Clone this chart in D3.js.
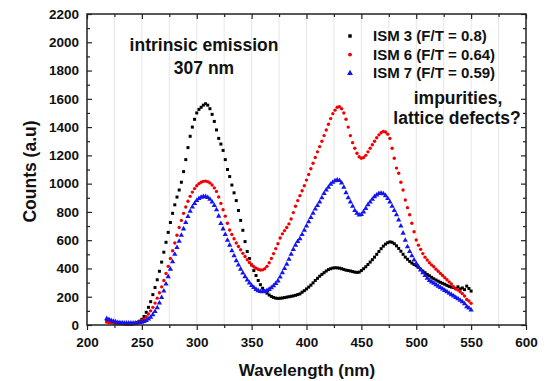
<!DOCTYPE html>
<html>
<head>
<meta charset="utf-8">
<script src="https://cdn.jsdelivr.net/npm/d3@7"></script>
<style>
  body { margin: 0; background: #fff; }
  svg { font-family: "Liberation Sans", Arial, sans-serif; font-weight: bold; }
</style>
</head>
<body>
<div id="chart"></div>
<script>
// sampling grid (nm), one reading every 2 nm from 218 to 550
const wavelengths = d3.range(218, 551, 2);

const ism3 = [
  35, 30, 24, 20, 17, 14, 12, 10, 8, 7,
  6, 6, 8, 12, 18, 27, 40, 60, 90, 125,
  165, 215, 265, 320, 380, 445, 515, 585, 655, 725,
  790, 850, 905, 955, 1010, 1085, 1170, 1255, 1335, 1400,
  1455, 1500, 1525, 1540, 1555, 1565, 1555, 1530, 1490, 1440,
  1380, 1320, 1280, 1235, 1170, 1100, 1050, 990, 935, 880,
  810, 740, 670, 590, 520, 470, 425, 385, 350, 315,
  285, 260, 240, 225, 212, 202, 195, 190, 188, 189,
  191, 194, 197, 200, 203, 206, 210, 215, 220, 232,
  243, 255, 268, 282, 298, 315, 330, 345, 358, 370,
  382, 392, 398, 403, 405, 404, 402, 398, 393, 388,
  385, 382, 378, 374, 372, 374, 385, 398, 412, 428,
  445, 462, 480, 500, 520, 540, 558, 572, 582, 588,
  585, 575, 560, 542, 522, 500, 480, 465, 450, 438,
  428, 420, 408, 395, 382, 370, 358, 348, 337, 327,
  318, 310, 302, 295, 288, 280, 273, 268, 265, 258,
  270, 255, 262, 250, 275, 258, 240
];

const ism6 = [
  20, 18, 16, 14, 12, 10, 9, 8, 8, 7,
  7, 7, 8, 10, 14, 20, 30, 42, 58, 78,
  100, 125, 155, 190, 228, 270, 315, 365, 415, 470,
  525, 580, 635, 690, 740, 790, 835, 875, 910, 940,
  965, 985, 1000, 1010, 1016, 1018, 1014, 1005, 990, 970,
  945, 905, 860, 815, 770, 720, 672, 640, 610, 580,
  555, 532, 507, 485, 462, 442, 425, 412, 402, 394,
  389, 390, 398, 415, 440, 470, 505, 540, 575, 615,
  645, 668, 690, 715, 750, 795, 840, 880, 915, 950,
  985, 1025, 1065, 1105, 1144, 1185, 1225, 1262, 1300, 1340,
  1379, 1420, 1460, 1495, 1520, 1540, 1544, 1530, 1500, 1455,
  1400, 1340, 1290, 1250, 1215, 1190, 1180, 1185, 1200, 1225,
  1250, 1275, 1300, 1325, 1345, 1360, 1370, 1365, 1350, 1320,
  1250, 1180, 1110, 1073, 1010, 955, 884, 830, 780, 720,
  660, 601, 565, 535, 505, 480, 460, 440, 425, 412,
  395, 380, 365, 350, 335, 320, 305, 290, 271, 255,
  248, 235, 222, 205, 180, 170, 153
];

const ism7 = [
  45, 38, 32, 26, 22, 18, 16, 15, 14, 13,
  13, 13, 13, 14, 15, 17, 20, 25, 32, 42,
  55, 72, 95, 122, 155, 195, 240, 290, 342, 395,
  448, 500, 548, 592, 635, 680, 725, 768, 805, 835,
  860, 880, 895, 904, 908, 908, 902, 890, 870, 845,
  815, 770, 718, 680, 640, 600, 565, 525, 490, 455,
  425, 395, 368, 342, 318, 298, 280, 265, 252, 243,
  237, 235, 237, 243, 252, 263, 277, 293, 312, 340,
  370, 400, 430, 465, 500, 535, 565, 590, 610, 640,
  670, 700, 730, 760, 790, 820, 845, 870, 900, 930,
  955, 975, 995, 1010, 1020, 1026, 1022, 1005, 975, 935,
  900, 870, 840, 810, 790, 778, 782, 800, 825, 850,
  870, 890, 908, 920, 930, 932, 928, 915, 895, 870,
  840, 810, 780, 743, 700, 650, 600, 554, 520, 490,
  460, 435, 412, 390, 370, 350, 330, 315, 305, 295,
  285, 275, 265, 255, 245, 235, 224, 215, 205, 195,
  185, 175, 165, 150, 130, 120, 106
];

const seriesNames = ["ISM 3 (F/T = 0.8)", "ISM 6 (F/T = 0.64)", "ISM 7 (F/T = 0.59)"];
const seriesColors = ["#000000", "#f00000", "#1414f0"];
const xTicks = [200, 250, 300, 350, 400, 450, 500, 550, 600];
const yTicks = [0, 200, 400, 600, 800, 1000, 1200, 1400, 1600, 1800, 2000, 2200];

const width = 557;
const height = 381;
const margin = { top: 14, right: 31, bottom: 56, left: 87 };

const svg = d3.select("#chart").append("svg")
  .attr("width", width)
  .attr("height", height);

const x = d3.scaleLinear().domain([200, 600]).range([margin.left, width - margin.right]);
const y = d3.scaleLinear().domain([0, 2200]).range([height - margin.bottom, margin.top]);

const x0 = margin.left, x1 = width - margin.right;
const y0 = height - margin.bottom, y1 = margin.top;

// light vertical grid every 25 nm
const gridVals = d3.range(225, 600, 25);
svg.append("g")
  .selectAll("line")
  .data(gridVals)
  .enter()
  .append("line")
  .attr("x1", d => x(d))
  .attr("x2", d => x(d))
  .attr("y1", y1)
  .attr("y2", y0)
  .attr("stroke", "#e6e6e6")
  .attr("stroke-width", 1);

// data points
const symbols = [d3.symbolSquare, d3.symbolCircle, d3.symbolTriangle];
const symSizes = [9, 9, 12];
const allSeries = [ism3, ism6, ism7];

allSeries.forEach((vals, i) => {
  const pts = vals.map((v, j) => [wavelengths[j], v]);
  svg.append("g")
    .selectAll("path")
    .data(pts)
    .enter()
    .append("path")
    .attr("d", d3.symbol().type(symbols[i]).size(symSizes[i]))
    .attr("transform", d => `translate(${x(d[0])},${y(d[1])})`)
    .attr("fill", seriesColors[i]);
});

// axes
function styleAxis(g) {
  g.select(".domain").remove();
  g.selectAll(".tick line").attr("stroke", "#222").attr("stroke-width", 1.2);
  g.selectAll(".tick text")
    .attr("fill", "#111")
    .style("font-size", "13.5px")
    .style("font-weight", "bold")
    .style("font-family", "'Liberation Sans', Arial, sans-serif");
}

const minorX = d3.range(225, 600, 50);
const minorY = d3.range(100, 2200, 200);

svg.append("g")
  .attr("transform", `translate(0,${y0})`)
  .call(d3.axisBottom(x).tickValues(xTicks).tickSize(5).tickPadding(7).tickFormat(d3.format("d")))
  .call(styleAxis);
svg.append("g")
  .attr("transform", `translate(0,${y0})`)
  .call(d3.axisBottom(x).tickValues(minorX).tickSize(3).tickFormat(""))
  .call(styleAxis);

svg.append("g")
  .attr("transform", `translate(${x0},0)`)
  .call(d3.axisLeft(y).tickValues(yTicks).tickSize(-5).tickPadding(8).tickFormat(d3.format("d")))
  .call(styleAxis);
svg.append("g")
  .attr("transform", `translate(${x0},0)`)
  .call(d3.axisLeft(y).tickValues(minorY).tickSize(-3).tickFormat(""))
  .call(styleAxis);

svg.append("g")
  .attr("transform", `translate(${x1},0)`)
  .call(d3.axisRight(y).tickValues(yTicks).tickSize(-5).tickFormat(""))
  .call(styleAxis);
svg.append("g")
  .attr("transform", `translate(${x1},0)`)
  .call(d3.axisRight(y).tickValues(minorY).tickSize(-3).tickFormat(""))
  .call(styleAxis);

svg.append("g")
  .attr("transform", `translate(0,${y1})`)
  .call(d3.axisTop(x).tickValues(xTicks).tickSize(-5).tickFormat(""))
  .call(styleAxis);
svg.append("g")
  .attr("transform", `translate(0,${y1})`)
  .call(d3.axisTop(x).tickValues(minorX).tickSize(-3).tickFormat(""))
  .call(styleAxis);

// frame
svg.append("rect")
  .attr("x", x0)
  .attr("y", y1)
  .attr("width", x1 - x0)
  .attr("height", y0 - y1)
  .attr("fill", "none")
  .attr("stroke", "#222")
  .attr("stroke-width", 1.5);

// axis titles
svg.append("text")
  .attr("x", 307)
  .attr("y", 376)
  .attr("text-anchor", "middle")
  .style("font-size", "17px")
  .attr("fill", "#111")
  .text("Wavelength (nm)");

svg.append("text")
  .attr("transform", `translate(36,${(y0 + y1) / 2 + 2}) rotate(-90)`)
  .attr("text-anchor", "middle")
  .style("font-size", "17.5px")
  .attr("fill", "#111")
  .text("Counts (a.u)");

// legend
const legend = svg.append("g").attr("transform", "translate(350,36)");
seriesNames.forEach((name, i) => {
  const row = legend.append("g").attr("transform", `translate(0,${i * 18.6})`);
  row.append("path")
    .attr("d", d3.symbol().type(symbols[i]).size(symSizes[i] + 3))
    .attr("fill", seriesColors[i]);
  row.append("text")
    .attr("x", 23)
    .attr("dy", "0.35em")
    .style("font-size", "15px")
    .attr("fill", "#111")
    .text(name);
});

// annotations
const notes = [
  { x: 204, y: 51, text: "intrinsic emission" },
  { x: 204, y: 73.5, text: "307 nm" },
  { x: 458, y: 104, text: "impurities," },
  { x: 457, y: 123.5, text: "lattice defects?" }
];
svg.append("g")
  .selectAll("text")
  .data(notes)
  .enter()
  .append("text")
  .attr("x", d => d.x)
  .attr("y", d => d.y)
  .attr("text-anchor", "middle")
  .style("font-size", "17.5px")
  .attr("fill", "#111")
  .text(d => d.text);
</script>
</body>
</html>
